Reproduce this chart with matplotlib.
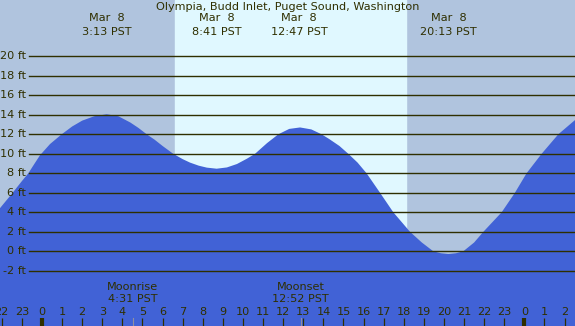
import matplotlib
matplotlib.use("Agg")
import matplotlib.pyplot as plt

# tide heights (hours from midnight Mar 8, feet)
hours = [-2.1, -1.5, -1.0, -0.68, -0.4, -0.1, 0.4, 0.98, 1.5, 2.0, 2.6, 3.22,
         3.8, 4.4, 4.8, 5.21, 5.6, 6.0, 6.53, 7.0, 7.36, 7.8, 8.2, 8.69, 9.2,
         9.7, 10.2, 10.6, 11.2, 11.76, 12.3, 12.84, 13.4, 13.91, 14.3, 14.8,
         15.24, 15.7, 16.15, 16.82, 17.48, 18.31, 18.9, 19.47, 19.85, 20.22,
         20.6, 20.96, 21.5, 21.96, 22.87, 23.53, 24.11, 24.86, 25.69, 26.6]
heights = [4.4, 5.9, 7.2, 8.0, 8.9, 9.85, 11.0, 12.0, 12.8, 13.4, 13.85, 14.05,
           13.85, 13.2, 12.65, 12.0, 11.45, 10.8, 10.0, 9.45, 9.1, 8.78, 8.58,
           8.47, 8.6, 8.95, 9.5, 10.0, 11.1, 12.0, 12.55, 12.7, 12.5, 12.0,
           11.5, 10.8, 10.0, 9.1, 8.0, 6.0, 4.0, 2.0, 0.9, 0.0, -0.2, -0.28,
           -0.2, 0.0, 0.9, 2.0, 4.0, 6.0, 8.0, 10.0, 12.0, 13.6]

sunrise = 6.62
sunset = 18.11

extreme_times = [3 + 13/60, 8 + 41/60, 12 + 47/60, 20 + 13/60]
extreme_labels = ["3:13 PST", "8:41 PST", "12:47 PST", "20:13 PST"]

moon_times = [4 + 31/60, 12 + 52/60]
moon_names = ["Moonrise", "Moonset"]
moon_labels = ["4:31 PST", "12:52 PST"]

ft_levels = [-2, 0, 2, 4, 6, 8, 10, 12, 14, 16, 18, 20]
hour_ticks = list(range(-2, 27))

title = "Olympia, Budd Inlet, Puget Sound, Washington"

txt = "#2f2f00"
night = "#b0c4de"
day = "#e0f8ff"
water = "#4162d6"
fs = 8.1

fig = plt.figure(figsize=(5.75, 3.26), dpi=100)
ax = fig.add_axes([0, 0, 1, 1])
ax.set_xlim(-2.09, 26.52)
ax.set_ylim(-7.66, 25.77)
ax.axis("off")
ax.axvspan(-3, 30, color=night, zorder=0)
ax.axvspan(sunrise, sunset, color=day, zorder=0.5)

ax.fill_between(hours, heights, -10, color=water, lw=0, zorder=1)

# level lines and labels
for lv in ft_levels:
    ax.plot([-0.65, 27], [lv, lv], color=txt, lw=1.0, zorder=2)
    ax.text(-0.78, lv, "%d ft" % lv, ha="right", va="center",
            fontsize=fs, color=txt, zorder=3)

# top labels
fig.text(0.5, 0.977, title, ha="center", va="center", fontsize=fs, color=txt)
for t, lab in zip(extreme_times, extreme_labels):
    x = (42 + t * 20.1) / 575
    fig.text(x, 1 - 18/326, "Mar  8", ha="center", va="center", fontsize=fs, color=txt)
    fig.text(x, 1 - 32/326, lab, ha="center", va="center", fontsize=fs, color=txt)

# moon labels
for t, name, lab in zip(moon_times, moon_names, moon_labels):
    x = (42 + t * 20.1) / 575
    fig.text(x, 1 - 287/326, name, ha="center", va="center", fontsize=fs, color=txt)
    fig.text(x, 1 - 299/326, lab, ha="center", va="center", fontsize=fs, color=txt)
    ax.plot([t, t], [-7.66, -6.8], color="#9090a0", lw=0.8, zorder=3)

# hour ticks
for h in hour_ticks:
    ax.text(h, -6.2, str(h % 24), ha="center", va="center", fontsize=fs, color=txt, zorder=3)
    ax.plot([h, h], [-7.66, -6.8], color=txt, lw=3 if h % 24 == 0 else 0.9,
            solid_capstyle="butt", zorder=3)

fig.savefig("out.png", dpi=100)
